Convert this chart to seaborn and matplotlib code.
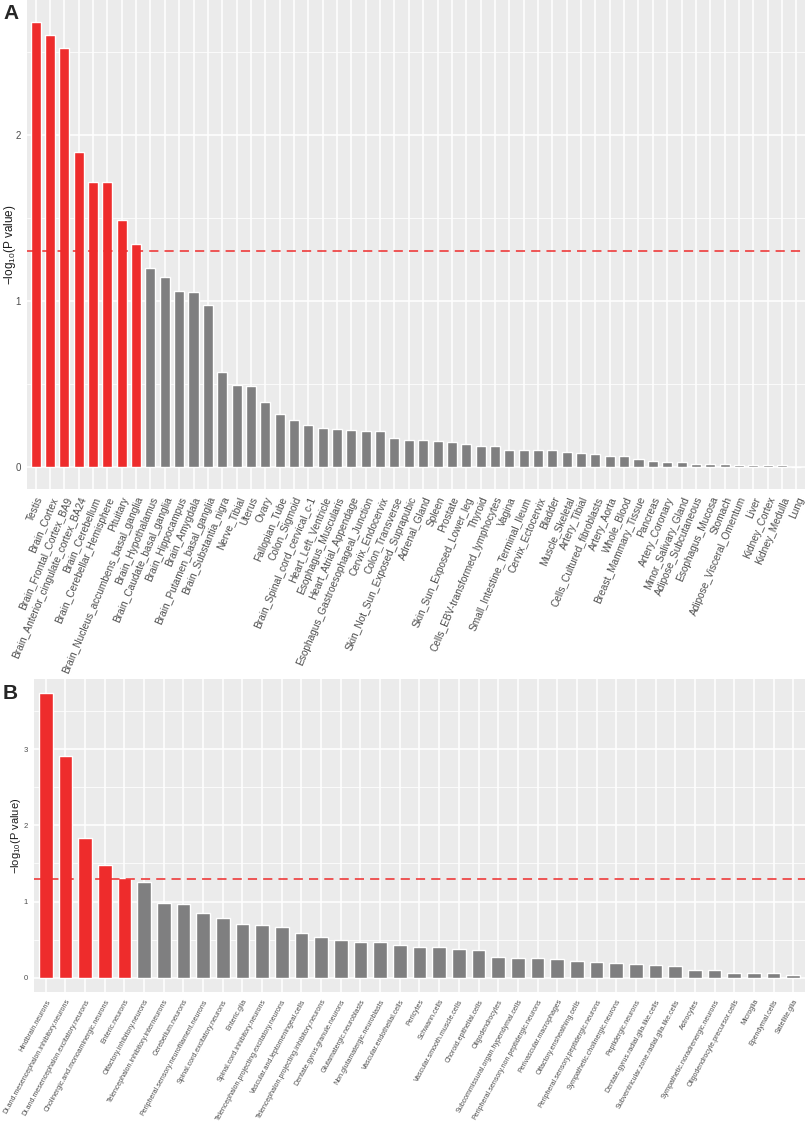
import numpy as np
import pandas as pd
import seaborn as sns
from matplotlib import pyplot as plt

# panel A: GTEx tissues
tissues = [
    'Testis', 'Brain_Cortex', 'Brain_Frontal_Cortex_BA9',
    'Brain_Anterior_cingulate_cortex_BA24', 'Brain_Cerebellum',
    'Brain_Cerebellar_Hemisphere', 'Pituitary',
    'Brain_Nucleus_accumbens_basal_ganglia', 'Brain_Hypothalamus',
    'Brain_Caudate_basal_ganglia', 'Brain_Hippocampus', 'Brain_Amygdala',
    'Brain_Putamen_basal_ganglia', 'Brain_Substantia_nigra', 'Nerve_Tibial',
    'Uterus', 'Ovary', 'Fallopian_Tube', 'Colon_Sigmoid',
    'Brain_Spinal_cord_cervical_c-1', 'Heart_Left_Ventricle',
    'Esophagus_Muscularis', 'Heart_Atrial_Appendage',
    'Esophagus_Gastroesophageal_Junction', 'Cervix_Endocervix',
    'Colon_Transverse', 'Skin_Not_Sun_Exposed_Suprapubic', 'Adrenal_Gland',
    'Spleen', 'Prostate', 'Skin_Sun_Exposed_Lower_leg', 'Thyroid',
    'Cells_EBV-transformed_lymphocytes', 'Vagina',
    'Small_Intestine_Terminal_Ileum', 'Cervix_Ectocervix', 'Bladder',
    'Muscle_Skeletal', 'Artery_Tibial', 'Cells_Cultured_fibroblasts',
    'Artery_Aorta', 'Whole_Blood', 'Breast_Mammary_Tissue', 'Pancreas',
    'Artery_Coronary', 'Minor_Salivary_Gland', 'Adipose_Subcutaneous',
    'Esophagus_Mucosa', 'Stomach', 'Adipose_Visceral_Omentum', 'Liver',
    'Kidney_Cortex', 'Kidney_Medulla', 'Lung',
]
tissue_logp = [
    2.68, 2.60, 2.525, 1.895, 1.717, 1.717, 1.49, 1.341, 1.20, 1.147,
    1.06, 1.053, 0.977, 0.574, 0.493, 0.485, 0.392, 0.317, 0.283, 0.253,
    0.235, 0.226, 0.222, 0.218, 0.214, 0.176, 0.164, 0.160, 0.156, 0.152,
    0.139, 0.125, 0.123, 0.103, 0.103, 0.101, 0.101, 0.087, 0.081, 0.075,
    0.063, 0.063, 0.045, 0.036, 0.026, 0.026, 0.018, 0.018, 0.018, 0.008,
    0.008, 0.008, 0.008, 0.001,
]

# panel B: cell types
cells = [
    'Hindbrain.neurons', 'Di.and.mesencephalon.inhibitory.neurons',
    'Di.and.mesencephalon.excitatory.neurons',
    'Cholinergic.and.monoaminergic.neurons', 'Enteric.neurons',
    'Olfactory.inhibitory.neurons', 'Telencephalon.inhibitory.interneurons',
    'Cerebellum.neurons', 'Peripheral.sensory.neurofilament.neurons',
    'Spinal.cord.excitatory.neurons', 'Enteric.glia',
    'Spinal.cord.inhibitory.neurons',
    'Telencephalon.projecting.excitatory.neurons',
    'Vascular.and.leptomeningeal.cells',
    'Telencephalon.projecting.inhibitory.neurons',
    'Dentate.gyrus.granule.neurons', 'Glutamatergic.neuroblasts',
    'Non.glutamatergic.neuroblasts', 'Vascular.endothelial.cells',
    'Pericytes', 'Schwann.cells', 'Vascular.smooth.muscle.cells',
    'Choroid.epithelial.cells', 'Oligodendrocytes',
    'Subcommissural.organ.hypendymal.cells',
    'Peripheral.sensory.non.peptidergic.neurons',
    'Perivascular.macrophages', 'Olfactory.ensheathing.cells',
    'Peripheral.sensory.peptidergic.neurons',
    'Sympathetic.cholinergic.neurons', 'Peptidergic.neurons',
    'Dentate.gyrus.radial.glia.like.cells',
    'Subventricular.zone.radial.glia.like.cells', 'Astrocytes',
    'Sympathetic.noradrenergic.neurons', 'Oligodendrocyte.precursor.cells',
    'Microglia', 'Ependymal.cells', 'Satellite.glia',
]
cell_logp = [
    3.733, 2.912, 1.836, 1.484, 1.304, 1.26, 0.984, 0.962, 0.852, 0.782,
    0.711, 0.694, 0.672, 0.593, 0.536, 0.492, 0.470, 0.466, 0.426, 0.404,
    0.400, 0.373, 0.360, 0.277, 0.264, 0.259, 0.250, 0.220, 0.202, 0.193,
    0.184, 0.167, 0.158, 0.105, 0.097, 0.061, 0.061, 0.057, 0.035,
]

THRESH = -np.log10(0.05)
RED = '#EE2C2C'
GREY = '#7F7F80'

sns.set_style('darkgrid')
plt.rcParams['font.family'] = ['Liberation Sans', 'DejaVu Sans']
plt.rcParams['mathtext.fontset'] = 'custom'
plt.rcParams['mathtext.rm'] = 'Liberation Sans'
plt.rcParams['mathtext.it'] = 'Liberation Sans:italic'

W, H = 809, 1122
fig = plt.figure(figsize=(W / 100, H / 100), dpi=100)


def px_axes(left, top, right, bottom):
    return fig.add_axes([left / W, 1 - bottom / H, (right - left) / W, (bottom - top) / H])


def panel(ax, names, vals, xfs, rot, yfs, labfs, labx, ticks, minor):
    df = pd.DataFrame({'name': names, 'val': vals})
    colors = [RED if v > THRESH else GREY for v in vals]
    sns.barplot(data=df, x='name', y='val', hue='name', palette=colors,
                order=names, hue_order=names, width=0.7, saturation=1,
                legend=False, dodge=False, ax=ax)
    n = len(names)
    ymax = max(vals)
    ax.set_xlim(-0.6, n - 0.4)
    ax.set_ylim(-0.05 * ymax, 1.05 * ymax)
    ax.set_facecolor('#EBEBEB')
    ax.set_yticks(ticks)
    ax.set_yticks(minor, minor=True)
    ax.grid(which='major', color='white', lw=1.1)
    ax.grid(which='minor', axis='y', color='white', lw=0.55)
    ax.set_axisbelow(True)
    ax.axhline(THRESH, color=RED, lw=1.1, ls=(0, (6, 4)))
    for s in ax.spines.values():
        s.set_visible(False)
    ax.tick_params(axis='both', which='major', length=2.5, width=0.8,
                   color='#333333', labelcolor='#4D4D4D', pad=2)
    ax.tick_params(axis='y', which='minor', length=0)
    ax.tick_params(axis='y', labelsize=yfs)
    ax.set_xticks(range(n))
    ax.set_xticklabels(names, rotation=rot, ha='right', rotation_mode='anchor',
                       fontsize=xfs)
    ax.set_xlabel('')
    ax.set_ylabel('$-$log$_{10}$(P value)', fontsize=labfs, color='#1A1A1A')
    ax.yaxis.set_label_coords(labx, 0.5)


ax1 = px_axes(27, 0, 805, 489)
panel(ax1, tissues, tissue_logp, 7.3, 67, 7, 8.5, -0.012,
      [0, 1, 2], [0.5, 1.5, 2.5])
ax2 = px_axes(34, 679, 805, 992)
panel(ax2, cells, cell_logp, 5.0, 61, 5.5, 8, -0.014,
      [0, 1, 2, 3], [0.5, 1.5, 2.5, 3.5])

fig.text(3 / W, 1 - 4 / H, 'A', fontsize=15, fontweight='bold', va='top')
fig.text(3 / W, 1 - 684 / H, 'B', fontsize=15, fontweight='bold', va='top')

fig.savefig('out.png', dpi=100)
plt.close(fig)
